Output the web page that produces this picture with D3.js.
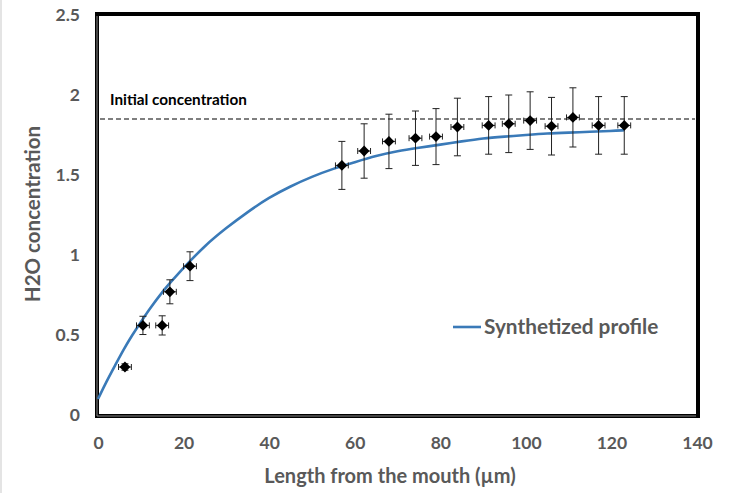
<!DOCTYPE html>
<html><head><meta charset="utf-8">
<script src="https://cdn.jsdelivr.net/npm/d3@7"></script>
<style>body{margin:0;background:#fff;}svg{display:block;}</style>
</head><body>
<svg id="c" width="731" height="493"></svg>
<script>
// Measured points
const ptX   = [6.3, 10.5, 15.0, 16.8, 21.5, 57.0, 62.2, 68.0, 74.2, 79.0, 84.0, 91.3, 96.0, 101.0, 106.0, 111.0, 117.0, 123.0];
const ptY   = [0.30, 0.56, 0.56, 0.77, 0.93, 1.56, 1.65, 1.71, 1.73, 1.74, 1.80, 1.81, 1.82, 1.84, 1.805, 1.86, 1.81, 1.81];
const errY  = [0.02, 0.057, 0.06, 0.075, 0.09, 0.15, 0.17, 0.17, 0.17, 0.175, 0.18, 0.18, 0.18, 0.18, 0.18, 0.185, 0.18, 0.18];
const errX  = [1.5, 1.5, 1.5, 1.5, 1.5, 1.5, 1.5, 1.5, 1.5, 1.5, 1.5, 1.5, 1.5, 1.5, 1.5, 1.5, 1.5, 1.5];
// Synthetized profile
const curveX = [0, 2, 4, 6, 8, 10, 12, 15, 18, 20, 25, 30, 35, 40, 45, 50, 55, 60, 65, 70, 75, 80, 85, 90, 95, 100, 105, 110, 115, 120, 123];
const curveY = [0.10, 0.21, 0.31, 0.41, 0.50, 0.58, 0.66, 0.77, 0.86, 0.92, 1.06, 1.17, 1.27, 1.36, 1.43, 1.49, 1.54, 1.58, 1.62, 1.65, 1.67, 1.69, 1.71, 1.73, 1.74, 1.75, 1.76, 1.765, 1.77, 1.775, 1.78];
const initialConc = 1.85;
const xTicks = [0, 20, 40, 60, 80, 100, 120, 140];
const yTicks = [0, 0.5, 1, 1.5, 2, 2.5];
const yTickLabels = ["0", "0.5", "1", "1.5", "2", "2.5"];

const svg = d3.select("#c");
const font = "Lato, 'Open Sans', sans-serif";
const x = d3.scaleLinear().domain([0, 140]).range([98, 697]);
const y = d3.scaleLinear().domain([0, 2.5]).range([415, 15]);

svg.append("rect").attr("x",0).attr("y",0).attr("width",731).attr("height",493).attr("fill","#fff");
svg.append("line").attr("x1",1).attr("x2",1).attr("y1",0).attr("y2",493).attr("stroke","#e4e4e4").attr("stroke-width",2);

// tick labels
const yAxis = d3.axisLeft(y).tickValues(yTicks).tickFormat((d,i)=>yTickLabels[i]).tickSize(0).tickPadding(18);
const gy = svg.append("g").attr("transform",`translate(${x(0)},0)`).call(yAxis);
gy.select(".domain").remove();
gy.selectAll("text").attr("font-family",font).attr("font-weight","bold").attr("font-size",17.5).attr("fill","#595959");

const xAxis = d3.axisBottom(x).tickValues(xTicks).tickFormat(d3.format("d")).tickSize(0).tickPadding(22);
const gx = svg.append("g").attr("transform",`translate(0,${y(0)})`).call(xAxis);
gx.select(".domain").remove();
gx.selectAll("text").attr("font-family",font).attr("font-weight","bold").attr("font-size",17.5).attr("fill","#595959");

// frame
svg.append("rect").attr("x",x(0)-1).attr("y",y(2.5)-1).attr("width",x(140)-x(0)+2).attr("height",y(0)-y(2.5)+2)
  .attr("fill","none").attr("stroke","#000").attr("stroke-width",4);
svg.append("line").attr("x1",x(0)-1).attr("x2",x(0)-1).attr("y1",y(2.5)+1).attr("y2",y(0)+1).attr("stroke","#888").attr("stroke-width",1);
svg.append("line").attr("x1",x(0)-1).attr("x2",x(140)-1).attr("y1",y(0)+1).attr("y2",y(0)+1).attr("stroke","#888").attr("stroke-width",1);

// dashed initial line
svg.append("line").attr("x1",x(0)+2).attr("x2",x(140)-2).attr("y1",y(initialConc)).attr("y2",y(initialConc))
  .attr("stroke","#000").attr("stroke-width",1.2).attr("stroke-dasharray","5,3");
svg.append("text").attr("x",x(0)+12).attr("y",y(initialConc)-14).text("Initial concentration")
  .attr("font-family",font).attr("font-weight","bold").attr("font-size",15.3).attr("fill","#000");

// curve
const line = d3.line().x(d=>x(d[0])).y(d=>y(d[1])).curve(d3.curveBasis);
svg.append("path").datum(curveX.map((v,i)=>[v,curveY[i]])).attr("d",line)
  .attr("fill","none").attr("stroke","#3a7ab8").attr("stroke-width",2.6);

// error bars
const pts = ptX.map((v,i)=>({x:v,y:ptY[i],ey:errY[i],ex:errX[i]}));
const eb = svg.append("g").attr("stroke","#222").attr("stroke-width",1);
pts.forEach(p=>{
  eb.append("line").attr("x1",x(p.x)).attr("x2",x(p.x)).attr("y1",y(p.y-p.ey)).attr("y2",y(p.y+p.ey));
  eb.append("line").attr("x1",x(p.x)-3.5).attr("x2",x(p.x)+3.5).attr("y1",y(p.y-p.ey)).attr("y2",y(p.y-p.ey));
  eb.append("line").attr("x1",x(p.x)-3.5).attr("x2",x(p.x)+3.5).attr("y1",y(p.y+p.ey)).attr("y2",y(p.y+p.ey));
  eb.append("line").attr("x1",x(p.x-p.ex)).attr("x2",x(p.x+p.ex)).attr("y1",y(p.y)).attr("y2",y(p.y));
  eb.append("line").attr("x1",x(p.x-p.ex)).attr("x2",x(p.x-p.ex)).attr("y1",y(p.y)-3).attr("y2",y(p.y)+3);
  eb.append("line").attr("x1",x(p.x+p.ex)).attr("x2",x(p.x+p.ex)).attr("y1",y(p.y)-3).attr("y2",y(p.y)+3);
});
svg.append("g").selectAll("path").data(pts).join("path")
  .attr("transform",d=>`translate(${x(d.x)},${y(d.y)})`)
  .attr("d",d3.symbol().type(d3.symbolDiamond2).size(75))
  .attr("fill","#000");

// legend
svg.append("line").attr("x1",453).attr("x2",481).attr("y1",327).attr("y2",327).attr("stroke","#3a7ab8").attr("stroke-width",2.6);
svg.append("text").attr("x",484).attr("y",334).text("Synthetized profile")
  .attr("font-family",font).attr("font-weight","bold").attr("font-size",20.8).attr("fill","#595959");

// axis titles
svg.append("text").attr("transform","translate(40,214) rotate(-90)").attr("text-anchor","middle").text("H2O concentration")
  .attr("font-family",font).attr("font-weight","bold").attr("font-size",20.5).attr("fill","#595959");
svg.append("text").attr("x",390).attr("y",483).attr("text-anchor","middle").text("Length from the mouth (µm)")
  .attr("font-family",font).attr("font-weight","bold").attr("font-size",20).attr("fill","#595959");
</script>
</body></html>
